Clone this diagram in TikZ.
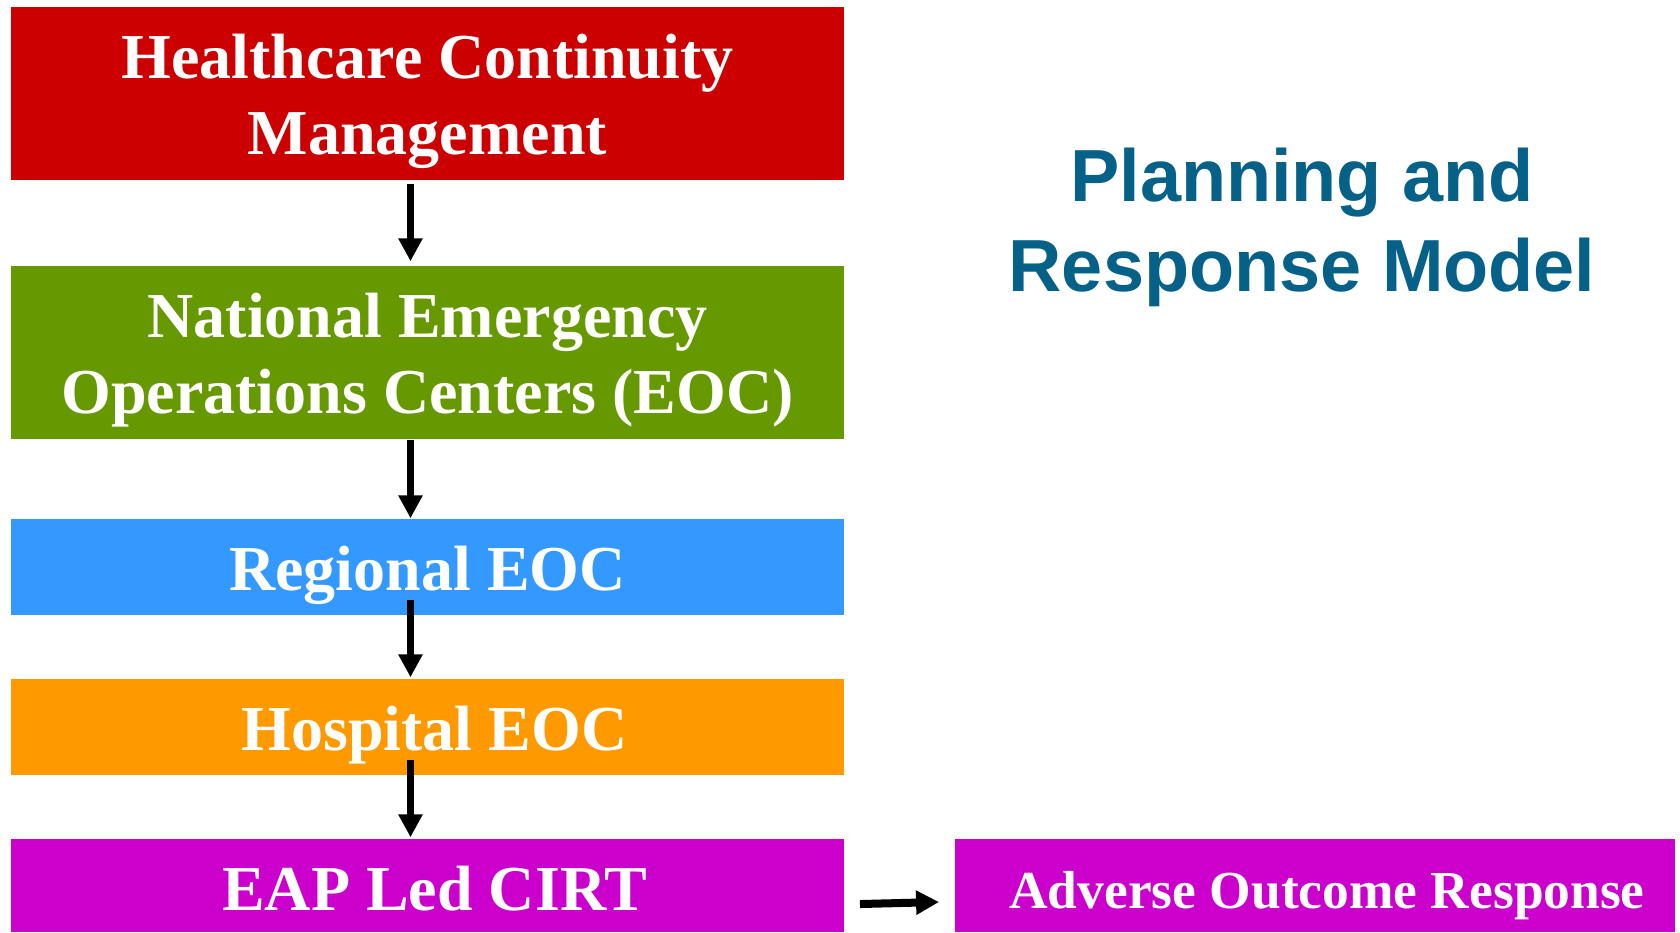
\documentclass[tikz,border=0pt]{standalone}
\usepackage{fontspec}
\setmainfont{Liberation Serif}
\newfontfamily\titlefont{Liberation Sans}
\usetikzlibrary{arrows.meta}

\definecolor{hcmred}{HTML}{CC0000}
\definecolor{eocgreen}{HTML}{669900}
\definecolor{eocblue}{HTML}{3399FF}
\definecolor{eocorange}{HTML}{FF9900}
\definecolor{cirtpurple}{HTML}{CC00CC}
\definecolor{titleblue}{HTML}{066189}

\newcommand{\boxstrut}{\rule[-0.15em]{0pt}{1.09em}}
\newcommand{\topstrut}{\rule{0pt}{0.94em}}

\tikzset{
  box/.style={fill=#1, inner sep=0pt, minimum width=8.33cm, text=white, align=center,
    font=\bfseries\fontsize{18.2}{21.6}\selectfont},
  flow/.style={line width=0.077cm, -{Triangle[width=0.23cm,length=0.23cm]}}
}

\begin{document}
\begin{tikzpicture}[x=0.01cm,y=-0.01cm]
\useasboundingbox (0,0) rectangle (1680,932);
\node[box=hcmred, minimum height=1.73cm] (hcm) at (427.5,93.5) {\topstrut Healthcare Continuity\\Management};
\node[box=eocgreen, minimum height=1.73cm] (neoc) at (427.5,352.5) {\topstrut National Emergency\\Operations Centers (EOC)};
\node[box=eocblue, minimum height=0.96cm] (reoc) at (427.5,567) {\boxstrut Regional EOC};
\node[box=eocorange, minimum height=0.96cm] (heoc) at (427.5,727) {\boxstrut\hspace*{0.14cm}Hospital EOC};
\node[box=cirtpurple, minimum height=0.93cm] (cirt) at (427.5,885.5) {\boxstrut\hspace*{0.14cm}EAP Led CIRT};
\node[box=cirtpurple, minimum height=0.93cm, minimum width=7.2cm,
  font=\bfseries\fontsize{15.2}{18}\selectfont] (aor) at (1315,885.5) {\rule[-0.2em]{0pt}{1.28em}\hspace*{0.24cm}Adverse Outcome Response};
\node[font=\titlefont\bfseries\fontsize{21}{25.6}\selectfont, text=titleblue, align=center] (title) at (1302,227) {Planning and\\Response Model};
\draw[flow] ([xshift=-0.17cm,yshift=-0.03cm]hcm.south) -- ([xshift=-0.17cm,yshift=0.04cm]neoc.north);
\draw[flow] ([xshift=-0.17cm]neoc.south) -- ([xshift=-0.17cm]reoc.north);
\draw[flow] ([xshift=-0.17cm,yshift=0.16cm]reoc.south) -- ([xshift=-0.17cm,yshift=0.01cm]heoc.north);
\draw[flow] ([xshift=-0.17cm,yshift=0.16cm]heoc.south) -- ([xshift=-0.17cm,yshift=0.01cm]cirt.north);
\draw[flow, line width=0.08cm] ([xshift=0.15cm,yshift=-0.185cm]cirt.east) -- ([xshift=-0.15cm,yshift=-0.165cm]aor.west);
\end{tikzpicture}
\end{document}
